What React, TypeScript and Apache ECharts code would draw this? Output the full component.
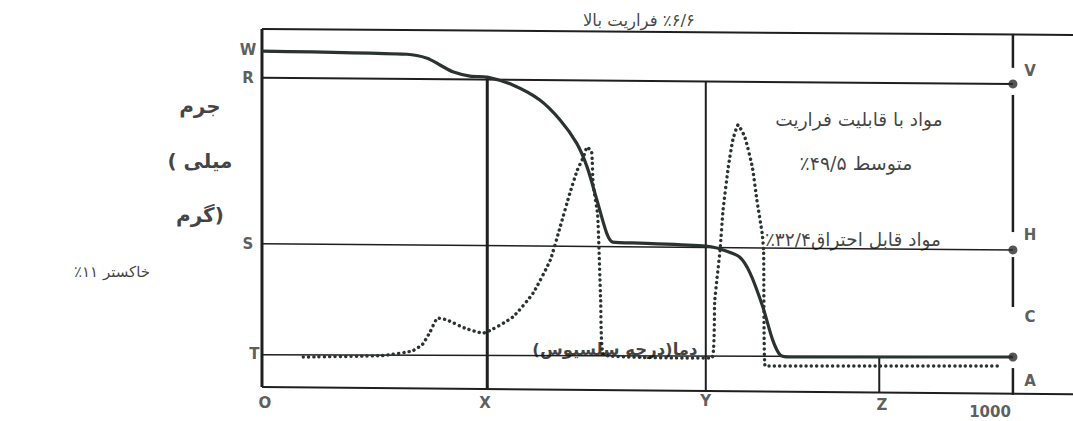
import React, { useEffect, useRef } from "react";
import * as echarts from "echarts";

// ---- Data (temperature units 0..1000, mass units 0..100) ----
const tgTemp = [0, 193, 220, 237, 254, 277, 300, 334, 370, 397, 419, 433, 446, 459, 467, 503, 591, 614, 636, 650, 667, 680, 690, 703, 1000];
const tgMass = [94.1, 93.2, 92.1, 90.2, 88.3, 87.1, 86.8, 84.6, 80.4, 74.8, 68.3, 61.6, 52.4, 43.1, 40.6, 40.3, 39.5, 38.4, 36.4, 31.9, 22.4, 13.2, 9.0, 8.4, 8.4];

const dtgTemp = [55, 160, 200, 214, 224, 234, 246, 270, 294, 334, 361, 384, 397, 410, 420, 428, 433, 439, 441, 447, 451, 455, 599, 603, 610, 614, 621, 627, 634, 643, 653, 659, 666, 668, 670, 985];
const dtgSignal = [8.4, 8.8, 10.1, 12.0, 15.5, 19.3, 18.8, 16.5, 15.1, 19.6, 26.3, 35.6, 44.8, 54.3, 60.8, 64.4, 67.2, 65.8, 56.6, 48.2, 24.4, 9.0, 8.1, 24.4, 38.4, 49.6, 61.6, 69.2, 73.4, 70.0, 61.6, 52.4, 43.1, 38.4, 5.9, 5.9];

// Reference levels (mass) and temperatures
const levelR = [86.6, 84.9];
const levelS = [40.1, 38.4];
const levelT = [9.0, 8.4];
const tempX = 300;
const tempY = 591;
const tempZ = 822;
const tempEnd = 1000;
const dotLevels = [84.9, 38.4, 8.4];

// Labels
const letterTexts = ["W", "R", "S", "T", "O", "X", "Y", "Z", "1000", "V", "H", "C", "A"];
const letterAt = [
  [-18.6, 94.4], [-18.6, 86.6], [-18.6, 40.1], [-10, 9.2],
  [4, -4.5], [297, -4.5], [591, -3.9], [825.6, -5.0], [969.5, -7.0],
  [1022.7, 88.5], [1022.7, 42.6], [1022.7, 19.6], [1022.7, 1.7],
];

const RLM = "\u200F";
const persianTexts = [
  RLM + "٪۶/۶ فراریت بالا",
  "مواد با قابلیت فراریت",
  "متوسط ۴۹/۵٪" + RLM,
  "مواد قابل احتراق۳۲/۴٪" + RLM,
  "دما(درجه سلسیوس)" + RLM,
  "خاکستر ۱۱٪" + RLM,
];
const persianAt = [
  [502, 102.8], [795, 74.8], [791, 62.7], [787, 41.2], [470, 10.4], [-199.7, 32.2],
];
const persianSize = [16.5, 18.5, 19, 18.5, 16.5, 15];
const persianBold = [false, false, false, false, true, false];

// y-axis title "جرم (میلی گرم)" in three lines, laid out token by token
const massTitle = ["{w|جرم}", "{p|(}{w| میلی}", "{w|گرم}{p|)}"];
const massTitleAt = [[-82.6, 78.7], [-82.6, 63.3], [-82.6, 48.2]];

const INK = "#1f1f1f";
const CURVE = "#2b332f";

function seg(points: number[][], width: number, z = 2) {
  return {
    type: "line",
    data: points,
    symbol: "none",
    silent: true,
    clip: false,
    z,
    lineStyle: { color: INK, width },
  };
}

export default function App() {
  const ref = useRef<HTMLDivElement>(null);

  useEffect(() => {
    if (!ref.current) return;
    const chart = echarts.init(ref.current, undefined, { renderer: "svg" });

    const titleFont = { fontSize: 20, fontWeight: "bold", fontFamily: "DejaVu Sans", color: "#111" };

    const series: any[] = [
      // frame
      seg([[0, 100.3], [1080, 98.6]], 2),
      seg([[0, 0], [1080, -2]], 2),
      seg([[0, 100.3], [0, 0]], 3),
      // level lines
      seg([[0, levelR[0]], [tempEnd, levelR[1]]], 2),
      seg([[0, levelS[0]], [tempEnd, levelS[1]]], 1.5),
      seg([[0, levelT[0]], [tempEnd, levelT[1]]], 1.5),
      // temperature verticals
      seg([[tempX, 86.8], [tempX, -0.5]], 3),
      seg([[tempY, 85.6], [tempY, -1.1]], 2),
      seg([[tempZ, levelT[1]], [tempZ, -1.5]], 2),
      // right vertical with gaps around markers
      seg([[tempEnd, 98.6], [tempEnd, 89.4]], 2.5),
      seg([[tempEnd, 81.8], [tempEnd, 43.4]], 2.5),
      seg([[tempEnd, 36.4], [tempEnd, 22.4]], 2.5),
      seg([[tempEnd, 5.3], [tempEnd, -2.2]], 2.5),
      // TG curve
      {
        type: "line",
        data: tgTemp.map((t, i) => [t, tgMass[i]]),
        symbol: "none",
        smooth: 0.25,
        silent: true,
        z: 4,
        lineStyle: { color: CURVE, width: 3.2 },
      },
      // DTG dotted curve
      {
        type: "line",
        data: dtgTemp.map((t, i) => [t, dtgSignal[i]]),
        symbol: "none",
        smooth: 0.15,
        silent: true,
        z: 3,
        lineStyle: { color: CURVE, width: 3.4, type: [0.1, 5.2], cap: "round" },
      },
      // marker dots
      {
        type: "scatter",
        data: dotLevels.map((v) => [tempEnd, v]),
        symbolSize: 9,
        silent: true,
        z: 5,
        itemStyle: { color: "#2a2a2a" },
      },
      // letter labels
      {
        type: "scatter",
        data: letterTexts.map((t, i) => ({ name: t, value: letterAt[i] })),
        symbolSize: 1,
        clip: false,
        silent: true,
        z: 6,
        itemStyle: { color: "rgba(0,0,0,0)" },
        label: {
          show: true,
          position: "inside",
          formatter: "{b}",
          color: "#333",
          fontFamily: "DejaVu Sans",
          fontWeight: "bold",
          fontSize: 15,
          align: "center",
          verticalAlign: "middle",
        },
      },
      // Persian labels
      {
        type: "scatter",
        data: persianTexts.map((t, i) => ({
          name: t,
          value: persianAt[i],
          label: {
            fontSize: persianSize[i],
            fontWeight: persianBold[i] ? "bold" : "normal",
          },
        })),
        symbolSize: 1,
        clip: false,
        silent: true,
        z: 6,
        itemStyle: { color: "rgba(0,0,0,0)" },
        label: {
          show: true,
          position: "inside",
          formatter: "{b}",
          color: "#111",
          fontFamily: "DejaVu Sans",
          align: "center",
          verticalAlign: "middle",
        },
      },
      // mass axis title
      {
        type: "scatter",
        data: massTitle.map((t, i) => ({ name: t, value: massTitleAt[i] })),
        symbolSize: 1,
        clip: false,
        silent: true,
        z: 6,
        itemStyle: { color: "rgba(0,0,0,0)" },
        label: {
          show: true,
          position: "inside",
          formatter: (p: any) => p.name,
          align: "center",
          verticalAlign: "middle",
          ...titleFont,
          rich: { w: { ...titleFont }, p: { ...titleFont } },
        },
      },
    ];

    chart.setOption({
      animation: false,
      backgroundColor: "#ffffff",
      grid: { left: 6.66, right: 0, top: 8.58, bottom: 5.44 },
      xAxis: { type: "value", min: -340, max: 1080, show: false },
      yAxis: { type: "value", min: -8, max: 106, show: false },
      series,
    });

    return () => chart.dispose();
  }, []);

  return (
    <div
      ref={ref}
      style={{ position: "fixed", left: 0, top: 0, width: 1073, height: 421, background: "#fff" }}
    />
  );
}
